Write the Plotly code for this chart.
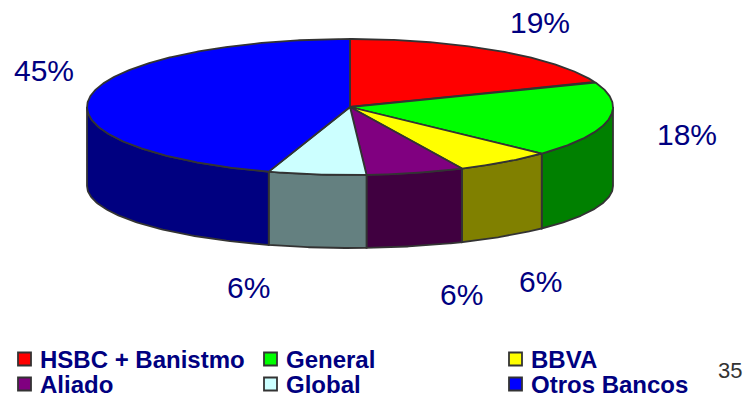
import numpy as np
import plotly.graph_objects as go

# ---------------- data ----------------
categories = ["HSBC + Banistmo", "General", "BBVA", "Aliado", "Global", "Otros Bancos"]
shares = [19, 18, 6, 6, 6, 45]
top_colors = ["#FF0000", "#00FF00", "#FFFF00", "#800080", "#CCFFFF", "#0000FF"]
side_colors = ["#800000", "#008000", "#808000", "#400040", "#648080", "#000080"]
page_number = "35"

# ---------------- layout constants ----------------
W, H = 749, 393
CX, CY, RX, RY = 350, 107, 263, 68        # top ellipse
CYB, RYB = 186, 62                        # bottom ellipse (side walls)
OUTLINE = "#333333"
LW = 1.8
NAVY = "#000080"
# percentage label anchor points (pixel space), one per slice
label_pos = [(540, 22.5), (686.5, 134), (540, 281), (461, 294), (248, 287.5), (43.5, 70)]
# legend grid
leg_cols_x = [24.5, 270.5, 515.5]
leg_rows_y = [359, 384]


def top_pt(theta):
    t = np.radians(theta)
    return CX + RX * np.sin(t), CY - RY * np.cos(t)


def bot_pt(theta):
    t = np.radians(theta)
    return CX + RX * np.sin(t), CYB - RYB * np.cos(t)


total = float(sum(shares))
bounds = np.concatenate([[0.0], np.cumsum(shares) / total * 360.0])

fig = go.Figure()

# side walls (visible front half, 90..270 deg)
for i in range(len(shares)):
    a, b = bounds[i], bounds[i + 1]
    lo, hi = max(a, 90.0), min(b, 270.0)
    if hi <= lo:
        continue
    th = np.linspace(lo, hi, 80)
    xt, yt = top_pt(th)
    xb, yb = bot_pt(th[::-1])
    xs = np.concatenate([xt, xb, xt[:1]])
    ys = np.concatenate([yt, yb, yt[:1]])
    fig.add_trace(go.Scatter(x=xs, y=ys, mode="lines", fill="toself",
                             fillcolor=side_colors[i],
                             line=dict(color=OUTLINE, width=LW),
                             hoverinfo="skip", showlegend=False))

# top faces
for i in range(len(shares)):
    a, b = bounds[i], bounds[i + 1]
    th = np.linspace(a, b, max(8, int((b - a) * 2)))
    xt, yt = top_pt(th)
    xs = np.concatenate([[CX], xt, [CX]])
    ys = np.concatenate([[CY], yt, [CY]])
    fig.add_trace(go.Scatter(x=xs, y=ys, mode="lines", fill="toself",
                             fillcolor=top_colors[i],
                             line=dict(color=OUTLINE, width=LW),
                             name=categories[i],
                             hoverinfo="skip", showlegend=False))

annotations = []
# percentage labels
for i, v in enumerate(shares):
    x, y = label_pos[i]
    annotations.append(dict(x=x, y=y, xref="x", yref="y", text=f"{v}%",
                            showarrow=False, xanchor="center", yanchor="middle",
                            font=dict(family="Liberation Sans, Arial", size=30, color=NAVY)))

# legend (manual, 3 columns x 2 rows)
lx, ly = [], []
for i, name in enumerate(categories):
    col, row = i % 3, i // 3
    lx.append(leg_cols_x[col])
    ly.append(leg_rows_y[row])
    annotations.append(dict(x=leg_cols_x[col] + 13.5, y=leg_rows_y[row], xref="x", yref="y",
                            text=f"<b>{name}</b>", showarrow=False,
                            xanchor="left", yanchor="middle",
                            font=dict(family="Liberation Sans, Arial", size=24, color=NAVY)))
fig.add_trace(go.Scatter(x=lx, y=ly, mode="markers",
                         marker=dict(symbol="square", size=13, color=top_colors,
                                     line=dict(color=OUTLINE, width=1.8)),
                         hoverinfo="skip", showlegend=False))

annotations.append(dict(x=730, y=370, xref="x", yref="y", text=page_number,
                        showarrow=False, xanchor="center", yanchor="middle",
                        font=dict(family="Liberation Sans, Arial", size=22, color="#333333")))

fig.update_layout(
    width=W, height=H, autosize=False,
    margin=dict(l=0, r=0, t=0, b=0),
    paper_bgcolor="white", plot_bgcolor="white",
    xaxis=dict(range=[0, W], visible=False, fixedrange=True),
    yaxis=dict(range=[H, 0], visible=False, fixedrange=True),
    annotations=annotations,
    showlegend=False,
)

fig.write_html("out.html")
